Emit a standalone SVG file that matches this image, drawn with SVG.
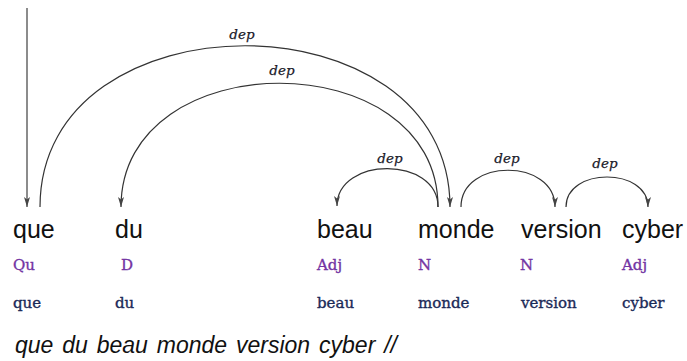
<svg xmlns="http://www.w3.org/2000/svg" width="687" height="361" viewBox="0 0 687 361">
<style>
.arc{fill:none;stroke:#333;stroke-width:1.2}
.root{fill:none;stroke:#666;stroke-width:1.5}
.lbl{font-family:"DejaVu Serif",serif;font-style:italic;font-size:13.5px;fill:#1a1a2a;stroke:#1a1a2a;stroke-width:0.25;text-anchor:middle}
.word{font-family:"Liberation Sans",Arial,sans-serif;font-size:25px;fill:#111}
.pos{font-family:"DejaVu Serif",serif;font-size:15px;fill:#7334a3;stroke:#7334a3;stroke-width:0.35}
.lem{font-family:"DejaVu Serif",serif;font-size:15px;fill:#1b2a58;stroke:#1b2a58;stroke-width:0.35}
.sent{font-family:"Liberation Sans",Arial,sans-serif;font-style:italic;font-size:23px;fill:#111}
</style>
<defs>
<marker id="ah" viewBox="0 0 10 6" markerWidth="10" markerHeight="6" refX="10" refY="3" orient="auto" markerUnits="userSpaceOnUse">
<path d="M0,0 L10,3 L0,6 L2.5,3 z" fill="#444"/>
</marker>
</defs>
<rect width="687" height="361" fill="#fff"/>
<g id="connectors">
<path class="root" d="M27,8 L27,207" marker-end="url(#ah)"/>
<path class="arc" d="M40,207 C40,-8 450,-8 450,207" marker-end="url(#ah)"/>
<path class="arc" d="M438,207 C438,42 121,42 121,207" marker-end="url(#ah)"/>
<path class="arc" d="M438,207 C438,156 337,156 337,206" marker-end="url(#ah)"/>
<path class="arc" d="M461,207 C461,158 555,158 555,207" marker-end="url(#ah)"/>
<path class="arc" d="M566,207 C566,167 648,167 648,207" marker-end="url(#ah)"/>
<text class="lbl" x="242" y="39">dep</text>
<text class="lbl" x="282" y="75">dep</text>
<text class="lbl" x="390" y="163">dep</text>
<text class="lbl" x="507" y="163">dep</text>
<text class="lbl" x="605" y="168">dep</text>
</g>
<g id="n-que"><text class="word" x="13" y="238">que</text><text class="pos" x="13" y="270">Qu</text><text class="lem" x="13" y="308">que</text></g>
<g id="n-du"><text class="word" x="115" y="238">du</text><text class="pos" x="121" y="270">D</text><text class="lem" x="115" y="308">du</text></g>
<g id="n-beau"><text class="word" x="317" y="238">beau</text><text class="pos" x="317" y="270">Adj</text><text class="lem" x="317" y="308">beau</text></g>
<g id="n-monde"><text class="word" x="418" y="238">monde</text><text class="pos" x="418" y="270">N</text><text class="lem" x="418" y="308">monde</text></g>
<g id="n-version"><text class="word" x="521" y="238">version</text><text class="pos" x="520" y="270">N</text><text class="lem" x="521" y="308">version</text></g>
<g id="n-cyber"><text class="word" x="622" y="238">cyber</text><text class="pos" x="622" y="270">Adj</text><text class="lem" x="622" y="308">cyber</text></g>
<text class="sent" x="15" y="353" word-spacing="2.5">que du beau monde version cyber //</text>
</svg>
